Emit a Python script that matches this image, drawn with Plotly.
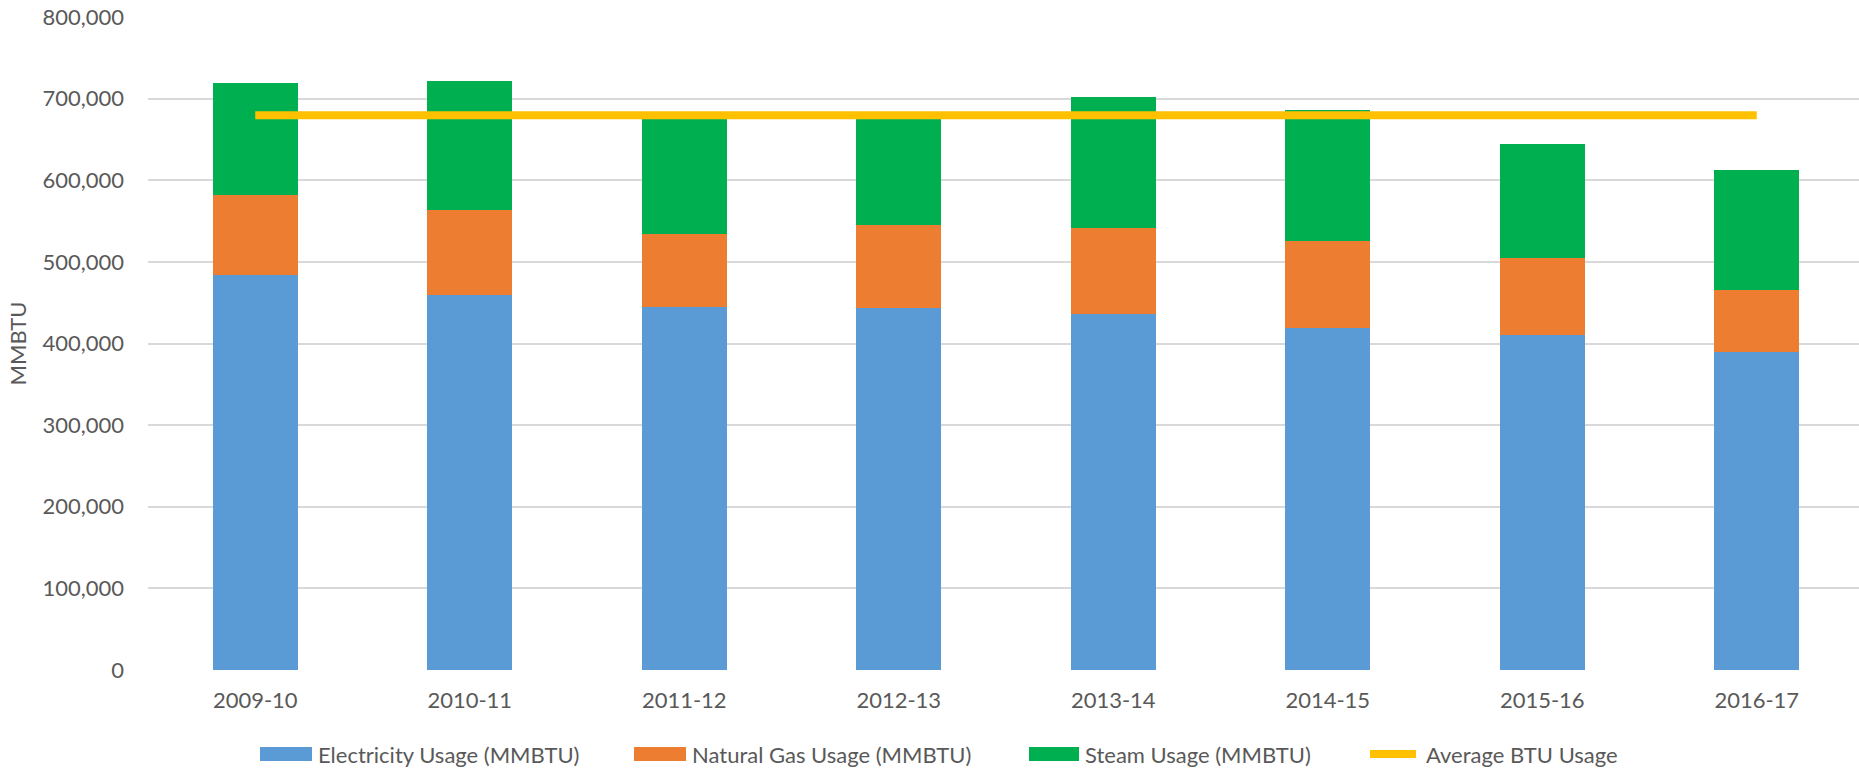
import plotly.graph_objects as go

years = ["2009-10", "2010-11", "2011-12", "2012-13", "2013-14", "2014-15", "2015-16", "2016-17"]
electricity = [484000, 459000, 445000, 443000, 436000, 419000, 410000, 389000]
natural_gas = [98500, 104000, 89600, 102000, 105600, 107000, 95000, 77000]
steam = [136500, 158000, 140000, 131000, 160400, 160500, 140000, 146000]
average_btu = [679500] * 8

series_names = ["Electricity Usage (MMBTU)", "Natural Gas Usage (MMBTU)", "Steam Usage (MMBTU)"]
avg_name = "Average BTU Usage"
colors = ["#5B9BD5", "#ED7D31", "#00B050"]
avg_color = "#FFC000"

W, H = 1859, 769
L, R, T, B = 148, 0, 17, 99
FONT = "Lato"
TXT = "#595959"
FS = 22
LFS = 22

fig = go.Figure()
for name, vals, col in zip(series_names, [electricity, natural_gas, steam], colors):
    fig.add_trace(go.Bar(x=years, y=vals, name=name, marker=dict(color=col, line=dict(width=0)),
                         showlegend=False))
fig.add_trace(go.Scatter(x=years, y=average_btu, name=avg_name, mode="lines",
                         line=dict(color=avg_color, width=8), showlegend=False))

# manual legend (pixel positions converted to paper coords)
pw, ph = W - L - R, H - T - B
def px(x):
    return (x - L) / pw
def py(y):
    return (H - B - y) / ph

legend_items = [
    (series_names[0], colors[0], 260, 312, 316, "rect"),
    (series_names[1], colors[1], 634, 686, 690, "rect"),
    (series_names[2], colors[2], 1029, 1079, 1083, "rect"),
    (avg_name, avg_color, 1366, 1420, 1424, "line"),
]
yc = 754
for text, col, x0, x1, tx, kind in legend_items:
    if kind == "rect":
        fig.add_shape(type="rect", xref="paper", yref="paper", x0=px(x0), x1=px(x1),
                      y0=py(yc + 7), y1=py(yc - 7), fillcolor=col, line=dict(width=0))
    else:
        fig.add_shape(type="line", xref="paper", yref="paper", x0=px(x0 + 4), x1=px(x1 - 4),
                      y0=py(yc), y1=py(yc), line=dict(color=col, width=8))
    fig.add_annotation(text=text, xref="paper", yref="paper", x=px(tx), y=py(yc),
                       xanchor="left", yanchor="middle", showarrow=False,
                       font=dict(family=FONT, size=LFS, color=TXT))

fig.update_layout(
    width=W, height=H,
    margin=dict(l=L, r=R, t=T, b=B, autoexpand=False),
    barmode="stack", bargap=0.605,
    plot_bgcolor="white", paper_bgcolor="white",
    font=dict(family=FONT, size=FS, color=TXT),
    showlegend=False,
)
fig.update_xaxes(type="category", range=[-0.5, -0.5 + pw / 214.5], showgrid=False, showline=False,
                 zeroline=False, ticks="", ticklabelstandoff=15,
                 tickfont=dict(family=FONT, size=FS, color=TXT))
fig.update_yaxes(range=[0, 800000], dtick=100000, tickformat=",d", showgrid=True,
                 gridcolor="#D9D9D9", gridwidth=1.5, zeroline=False, showline=False, ticks="",
                 ticklabelstandoff=23, tickfont=dict(family=FONT, size=FS, color=TXT),
                 title=dict(text="MMBTU", standoff=9, font=dict(family=FONT, size=FS, color=TXT)))

fig.write_html("out.html", config={"displayModeBar": False},
               post_script="document.body.style.margin='0';")
